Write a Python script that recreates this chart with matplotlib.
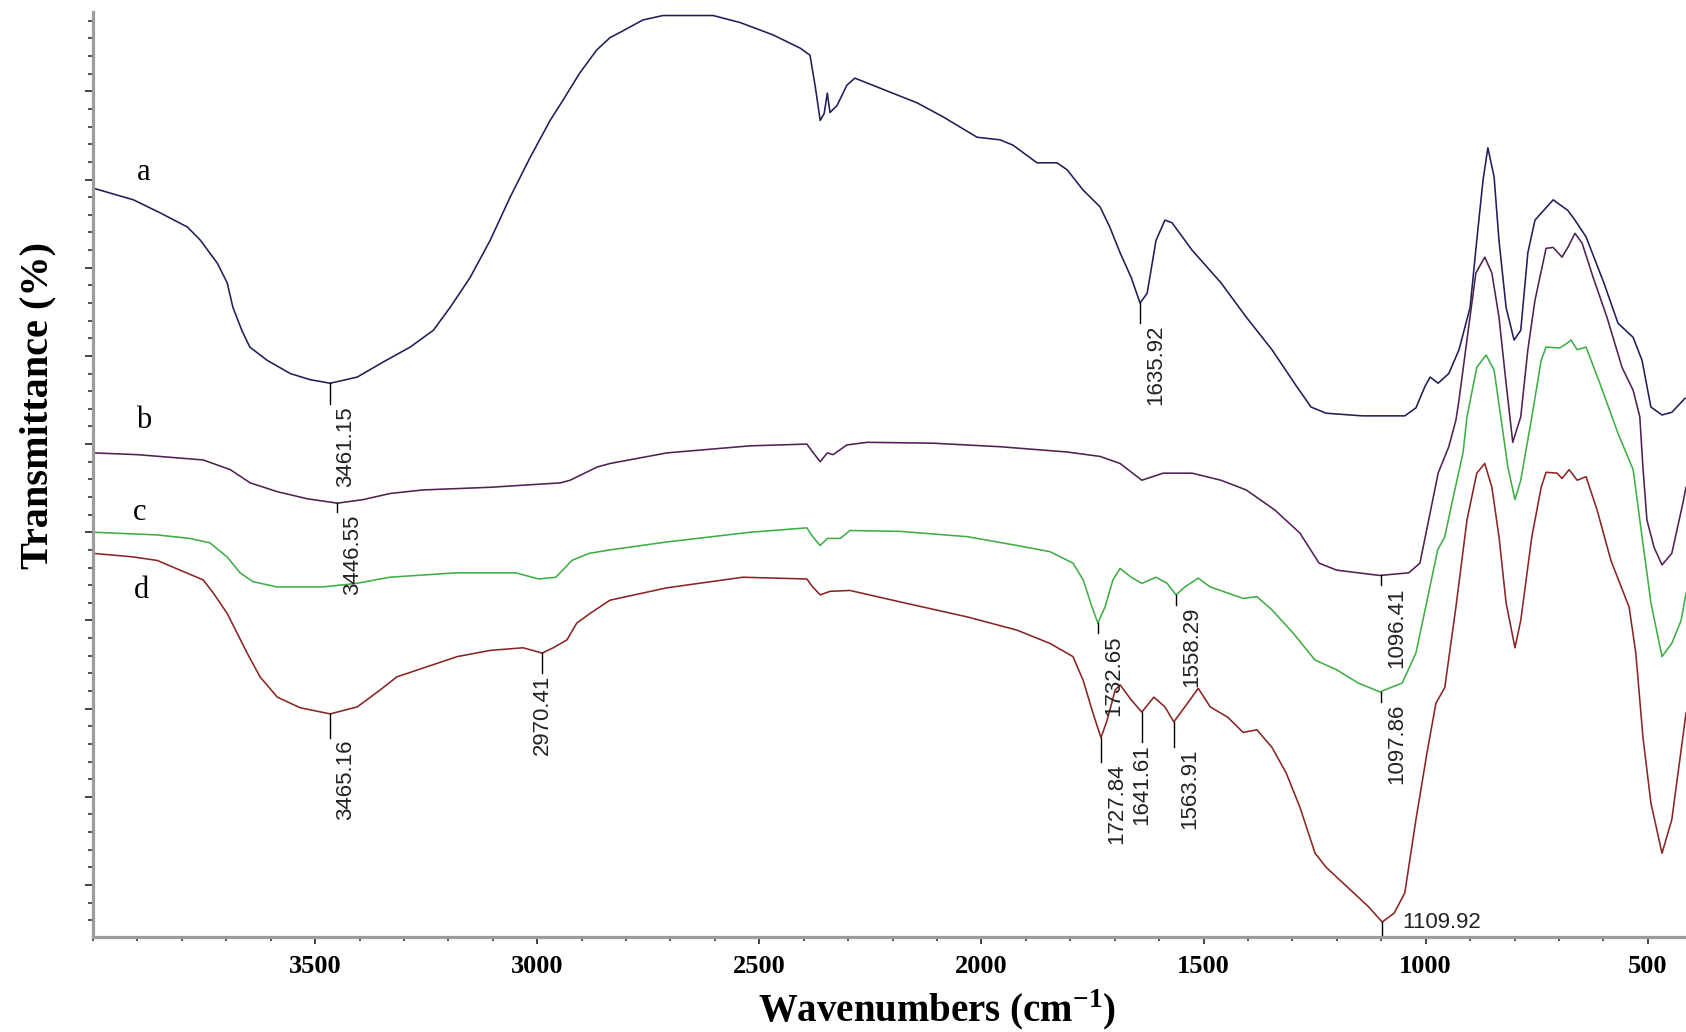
import numpy as np
import matplotlib
matplotlib.use("Agg")
import matplotlib.pyplot as plt
from matplotlib.ticker import FixedLocator, MultipleLocator, NullFormatter
from matplotlib.transforms import offset_copy

# FT-IR spectra, wavenumber (cm-1) vs transmittance (arbitrary offset units)
a_wn = [3998, 3909, 3848, 3787, 3758, 3720, 3698, 3685, 3665, 3647,
        3608, 3556, 3511, 3466, 3405, 3347, 3286, 3234, 3196, 3151,
        3106, 3061, 3016, 2971, 2942, 2904, 2866, 2836, 2813, 2762,
        2717, 2604, 2543, 2469, 2408, 2386, 2374, 2363, 2354, 2347,
        2341, 2325, 2303, 2285, 2235, 2145, 2086, 2010, 1958, 1929,
        1875, 1830, 1807, 1771, 1733, 1711, 1688, 1663, 1643, 1627,
        1607, 1587, 1571, 1526, 1461, 1404, 1346, 1290, 1258, 1224,
        1143, 1047, 1022, 1002, 990, 972, 948, 925, 900, 885,
        871, 860, 846, 835, 819, 801, 786, 770, 754, 713,
        680, 664, 639, 599, 567, 533, 513, 493, 468, 446,
        416]
a_T = [79.0, 77.7, 76.2, 74.6, 73.1, 70.5, 68.3, 65.5, 62.9, 61.0,
       59.5, 58.0, 57.3, 56.9, 57.6, 59.3, 61.0, 62.9, 65.5, 68.9,
       73.1, 78.0, 82.5, 86.7, 89.0, 92.1, 94.7, 96.1, 96.7, 98.1,
       98.6, 98.6, 97.8, 96.4, 94.9, 94.1, 90.5, 86.7, 87.5, 89.8,
       87.6, 88.4, 90.7, 91.5, 90.5, 88.7, 87.1, 84.8, 84.5, 83.9,
       81.9, 81.9, 81.1, 78.8, 76.9, 74.6, 71.7, 68.9, 66.0, 67.1,
       73.1, 75.4, 75.1, 72.0, 68.3, 64.4, 60.7, 56.5, 54.2, 53.5,
       53.2, 53.2, 54.1, 56.5, 57.6, 56.9, 58.0, 60.7, 65.5, 73.1,
       79.9, 83.6, 80.3, 73.1, 65.5, 61.8, 62.9, 71.7, 75.4, 77.7,
       76.5, 75.4, 73.5, 68.3, 63.7, 62.1, 59.5, 54.2, 53.3, 53.6,
       55.2]

b_wn = [3998, 3900, 3752, 3691, 3646, 3585, 3518, 3450, 3392, 3331,
        3257, 3106, 2948, 2926, 2865, 2836, 2708, 2521, 2393, 2380,
        2363, 2347, 2334, 2303, 2257, 2109, 1958, 1807, 1733, 1688,
        1639, 1591, 1526, 1461, 1404, 1339, 1283, 1240, 1200, 1103,
        1038, 1013, 990, 972, 948, 932, 925, 905, 887, 867,
        851, 835, 819, 804, 786, 770, 754, 729, 713, 693,
        680, 664, 648, 623, 592, 558, 533, 518, 511, 502,
        486, 468, 446, 421, 414]
b_T = [49.0, 48.8, 48.2, 47.1, 45.6, 44.6, 43.8, 43.3, 43.7, 44.4,
       44.8, 45.1, 45.6, 45.9, 47.4, 47.8, 49.0, 49.8, 50.0, 49.1,
       48.0, 49.0, 48.8, 49.9, 50.2, 50.1, 49.7, 49.1, 48.6, 47.8,
       45.9, 46.7, 46.7, 45.9, 44.8, 42.5, 39.9, 36.5, 35.7, 35.1,
       35.4, 36.5, 42.2, 46.7, 49.7, 52.7, 55.0, 62.6, 69.4, 71.2,
       69.4, 64.4, 56.9, 50.2, 53.1, 60.7, 66.3, 72.2, 72.3, 71.2,
       72.3, 73.9, 72.8, 68.9, 64.4, 58.7, 56.1, 53.1, 47.4, 41.4,
       38.3, 36.3, 37.6, 43.3, 45.1]

c_wn = [3998, 3856, 3782, 3737, 3698, 3669, 3640, 3586, 3483, 3407,
        3332, 3183, 3048, 2997, 2958, 2922, 2884, 2836, 2708, 2521,
        2393, 2380, 2363, 2347, 2318, 2296, 2183, 2032, 1920, 1846,
        1794, 1771, 1751, 1738, 1722, 1704, 1688, 1663, 1639, 1607,
        1582, 1562, 1542, 1512, 1485, 1445, 1411, 1380, 1346, 1299,
        1249, 1200, 1152, 1103, 1053, 1022, 998, 973, 957, 941,
        916, 907, 885, 864, 846, 831, 815, 799, 786, 761,
        740, 729, 698, 680, 673, 659, 639, 608, 567, 533,
        518, 493, 468, 446, 425, 414]
c_T = [40.0, 39.7, 39.3, 38.8, 37.2, 35.4, 34.4, 33.8, 33.8, 34.2,
       34.9, 35.4, 35.4, 34.7, 34.9, 36.8, 37.6, 38.0, 38.9, 40.0,
       40.5, 39.5, 38.5, 39.3, 39.3, 40.2, 40.1, 39.5, 38.5, 37.8,
       36.5, 34.6, 31.5, 29.7, 31.5, 34.6, 35.9, 34.9, 34.2, 34.9,
       34.2, 32.9, 33.8, 34.8, 33.8, 33.1, 32.5, 32.7, 31.2, 28.6,
       25.5, 24.4, 22.9, 21.9, 22.9, 26.3, 32.0, 38.0, 39.5, 43.3,
       49.0, 53.1, 58.7, 60.1, 58.4, 53.1, 47.4, 43.7, 45.9, 53.1,
       59.5, 61.0, 60.9, 61.5, 61.8, 60.7, 61.0, 56.9, 51.2, 47.1,
       41.4, 32.0, 25.9, 27.4, 30.0, 33.1]

d_wn = [3998, 3909, 3855, 3804, 3752, 3729, 3698, 3676, 3653, 3624,
        3585, 3534, 3466, 3405, 3354, 3316, 3257, 3180, 3106, 3032,
        2989, 2964, 2933, 2911, 2881, 2836, 2708, 2537, 2393, 2380,
        2363, 2341, 2296, 2183, 2032, 1920, 1846, 1794, 1771, 1749,
        1731, 1717, 1699, 1688, 1663, 1639, 1612, 1587, 1567, 1542,
        1512, 1485, 1445, 1411, 1380, 1346, 1314, 1283, 1249, 1224,
        1177, 1128, 1098, 1071, 1047, 1022, 997, 977, 957, 932,
        907, 885, 867, 851, 835, 819, 799, 786, 761, 740,
        729, 704, 693, 677, 659, 639, 614, 583, 542, 527,
        511, 493, 468, 446, 421, 414]
d_T = [37.6, 37.2, 36.8, 35.7, 34.6, 33.1, 30.8, 28.6, 26.3, 23.6,
       21.3, 20.1, 19.4, 20.2, 22.1, 23.6, 24.6, 25.9, 26.6, 26.9,
       26.3, 26.9, 27.8, 29.7, 30.8, 32.3, 33.7, 34.9, 34.7, 33.8,
       32.9, 33.3, 33.4, 32.1, 30.4, 28.9, 27.4, 25.9, 23.2, 19.5,
       16.7, 18.7, 22.1, 22.7, 21.0, 19.6, 21.3, 20.2, 18.5, 20.2,
       22.3, 20.2, 19.0, 17.3, 17.6, 15.6, 12.7, 8.8, 3.6, 2.0,
       -0.2, -2.5, -4.2, -3.2, -0.9, 7.4, 15.0, 20.6, 22.4, 31.5,
       41.4, 46.7, 47.8, 45.1, 39.5, 32.0, 26.9, 30.0, 39.5, 45.1,
       46.8, 46.7, 46.1, 47.1, 45.9, 46.3, 42.5, 36.8, 31.5, 26.3,
       16.8, 9.3, 3.6, 7.4, 16.8, 19.5]

# peak labels: which curve, where, and the printed value
ann_curve = ['a', 'b', 'd', 'd', 'a', 'c', 'd', 'd', 'd', 'c', 'b', 'c', 'd']
ann_wn = [3466, 3450, 3466, 2989, 1643, 1738, 1731, 1639, 1567, 1562, 1101, 1101, 1098]
ann_label = ['3461.15', '3446.55', '3465.16', '2970.41', '1635.92', '1732.65',
             '1727.84', '1641.61', '1563.91', '1558.29', '1096.41', '1097.86', '1109.92']

xticks = [3500, 3000, 2500, 2000, 1500, 1000, 500]

curves = {
    'a': (a_wn, a_T, '#1e1e58'),
    'b': (b_wn, b_T, '#4e2252'),
    'c': (c_wn, c_T, '#3fae46'),
    'd': (d_wn, d_T, '#8a2424'),
}
# label anchor of each curve name (wavenumber, baseline)
name_pos = {'a': (3885, 79.9), 'b': (3887, 51.8), 'c': (3894, 41.4), 'd': (3890, 32.5)}

# tick length in pixels and how the label sits under it
tick_len = [21, 9, 24, 20, 20, 10, 24, 30, 25, 10, 10, 10, 15]
placing = ['right', 'right', 'right', 'center', 'right', 'right', 'right',
           'center', 'right', 'right', 'right', 'right', 'side']

serif = 'Liberation Serif'
sans = 'Liberation Sans'

W, H = 1686, 1032
fig = plt.figure(figsize=(W / 100, H / 100), dpi=100)
ax = fig.add_axes([93 / W, 95 / H, 1 - 93 / W, (937 - 12) / H])
ylo, yhi = -5.9, 99.0
ax.set_xlim(4000, 414)
ax.set_ylim(ylo, yhi)
ppu = (937 - 12) / (yhi - ylo)   # pixels per y unit

for key, (wn, T, col) in curves.items():
    ax.plot(wn, T, color=col, lw=1.15, clip_on=False)
    x, y = name_pos[key]
    ax.text(x, y, key, family=serif, fontsize=22, ha='center', va='baseline')

for i in range(len(ann_wn)):
    wn, T, col = curves[ann_curve[i]]
    w = ann_wn[i]
    y0 = np.interp(w, wn[::-1], T[::-1])
    y1 = y0 - tick_len[i] / ppu
    ax.plot([w, w], [y0, y1], color='black', lw=1.0)
    if placing[i] == 'side':
        tr = offset_copy(ax.transData, fig=fig, x=20, y=0, units='dots')
        ax.text(w, y0, ann_label[i], transform=tr, family=sans, fontsize=16,
                ha='left', va='center', color='#222222')
    else:
        dx = 5 if placing[i] == 'right' else 0
        ha = 'left' if placing[i] == 'right' else 'center'
        tr = offset_copy(ax.transData, fig=fig, x=dx, y=-2, units='dots')
        ax.text(w, y1, ann_label[i], transform=tr, family=sans, fontsize=16,
                rotation=90, ha=ha, va='top', color='#222222')

# axes look
for s in ['top', 'right']:
    ax.spines[s].set_visible(False)
for s in ['left', 'bottom']:
    ax.spines[s].set_color('#9c9c9c')
    ax.spines[s].set_linewidth(2.3)

ax.xaxis.set_major_locator(FixedLocator(xticks))
ax.xaxis.set_minor_locator(MultipleLocator(100))
ax.yaxis.set_major_locator(MultipleLocator(10))
ax.yaxis.set_minor_locator(MultipleLocator(2))
ax.yaxis.set_major_formatter(NullFormatter())
ax.tick_params(axis='y', which='major', length=6, width=1.3, color='#333333')
ax.tick_params(axis='y', which='minor', length=3.5, width=1.2, color='#333333')
ax.tick_params(axis='x', which='major', length=5, width=1.3, color='#333333', pad=8)
ax.tick_params(axis='x', which='minor', length=3, width=1.2, color='#333333')
for lab in ax.get_xticklabels():
    lab.set_fontfamily(serif)
    lab.set_fontweight('bold')
    lab.set_fontsize(19)

ax.set_xlabel('Wavenumbers (cm$^{\\mathregular{-1}}$)', family=serif,
              fontweight='bold', fontsize=28)
ax.xaxis.set_label_coords(0.53, -0.055)
ax.set_ylabel('Transmittance (%)', family=serif, fontweight='bold', fontsize=29)
ax.yaxis.set_label_coords(-0.023, 0.575)

fig.savefig('out.png', dpi=100)
